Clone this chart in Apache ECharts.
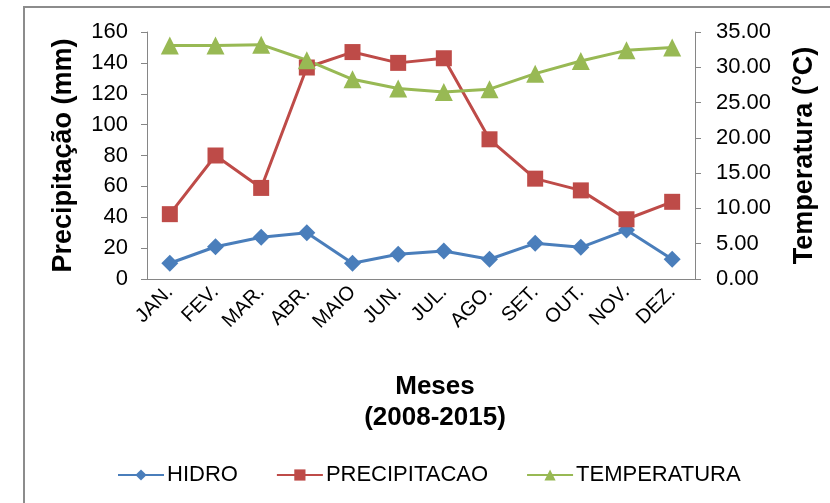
<!DOCTYPE html>
<html><head><meta charset="utf-8">
<script src="https://cdn.jsdelivr.net/npm/echarts@6/dist/echarts.min.js"></script>
<style>html,body{margin:0;padding:0;background:#fff}#c{width:830px;height:503px}</style>
</head><body><div id="c"></div>
<script>
const categories = ['JAN.','FEV.','MAR.','ABR.','MAIO','JUN.','JUL.','AGO.','SET.','OUT.','NOV.','DEZ.'];
const hidro = [10.2, 20.9, 27, 30, 10.2, 16, 18.1, 12.8, 23.1, 20.5, 31.7, 12.8];
const precipitacao = [42, 80, 59, 137, 147, 140, 143, 90.5, 65, 57.4, 38.7, 50];
const temperatura = [33.1, 33.1, 33.2, 31.0, 28.3, 27.0, 26.5, 26.9, 29.1, 30.9, 32.4, 32.8];

const FONT = 'Liberation Sans, Arial, sans-serif';
const axisGray = '#868686';
const chart = echarts.init(document.getElementById('c'), null, {renderer:'canvas'});
chart.setOption({
  animation:false,
  backgroundColor:'#fff',
  graphic:[{type:'rect', shape:{x:24,y:7,width:820,height:510}, style:{fill:'none',stroke:'#8c8c8c',lineWidth:2}, silent:true}],
  grid:{left:147,right:135,top:32,bottom:224},
  legend:{
    left:112, top:459, itemWidth:46, itemHeight:14, itemGap:38,
    textStyle:{fontFamily:FONT, fontSize:22, color:'#000', padding:[0,0,0,-2]},
    data:['HIDRO','PRECIPITACAO','TEMPERATURA']
  },
  xAxis:{
    type:'category', data:categories, boundaryGap:true,
    axisLine:{lineStyle:{color:axisGray,width:1}},
    axisTick:{length:6,lineStyle:{color:axisGray}},
    axisLabel:{rotate:45, fontFamily:FONT, fontSize:20, color:'#000', margin:10, interval:0},
    name:'Meses\n(2008-2015)', nameLocation:'middle', nameGap:92,
    nameTextStyle:{fontFamily:FONT, fontSize:26, fontWeight:'bold', color:'#000', lineHeight:31, padding:[0,0,0,28]}
  },
  yAxis:[{
    type:'value', min:0, max:160, interval:20, position:'left',
    splitLine:{show:false},
    axisLine:{show:true,lineStyle:{color:axisGray}},
    axisTick:{show:true,length:6,lineStyle:{color:axisGray}},
    axisLabel:{fontFamily:FONT, fontSize:22, color:'#000', margin:19},
    name:'Precipitação (mm)', nameLocation:'middle', nameRotate:90, nameGap:70,
    nameTextStyle:{fontFamily:FONT, fontSize:27, fontWeight:'bold', color:'#000'}
  },{
    type:'value', min:0, max:35, interval:5, position:'right',
    splitLine:{show:false},
    axisLine:{show:true,lineStyle:{color:axisGray}},
    axisTick:{show:true,length:6,lineStyle:{color:axisGray}},
    axisLabel:{fontFamily:FONT, fontSize:22, color:'#000', margin:21, formatter:v=>v.toFixed(2)},
    name:'Temperatura (°C)', nameLocation:'middle', nameRotate:90, nameGap:96,
    nameTextStyle:{fontFamily:FONT, fontSize:27, fontWeight:'bold', color:'#000'}
  }],
  series:[
    {name:'HIDRO', type:'line', yAxisIndex:0, data:hidro, symbol:'diamond', symbolSize:17,
     itemStyle:{color:'#4A7EBB'}, lineStyle:{color:'#4A7EBB',width:3}},
    {name:'PRECIPITACAO', type:'line', yAxisIndex:0, data:precipitacao, symbol:'rect', symbolSize:16,
     itemStyle:{color:'#BE4B48'}, lineStyle:{color:'#BE4B48',width:3}},
    {name:'TEMPERATURA', type:'line', yAxisIndex:1, data:temperatura, symbol:'triangle', symbolSize:18,
     itemStyle:{color:'#98B954'}, lineStyle:{color:'#98B954',width:3}}
  ]
});
</script></body></html>
